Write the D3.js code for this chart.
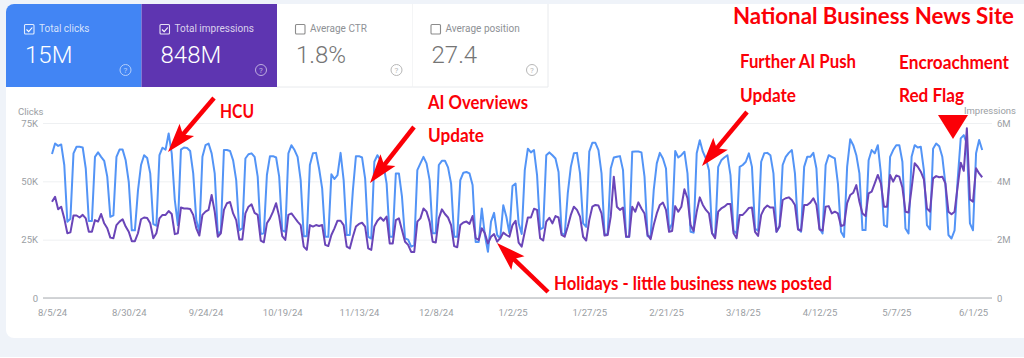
<!DOCTYPE html>
<html>
<head>
<meta charset="utf-8">
<script src="https://cdn.jsdelivr.net/npm/d3@7"></script>
<style>
  html, body { margin: 0; padding: 0; background: #eff3f9; overflow: hidden; }
  svg { display: block; font-family: Roboto, sans-serif; }
</style>
</head>
<body>
<div id="chart"></div>
<script>
const startDate = '8/5/24';

// daily values, one row per week (Mon..Sun)
const clicks = [
  61.7,66.2,65.2,65.8,57,32.7,34,
  62,64.8,64.8,64.5,55.5,33,33,
  60.5,62.4,60.5,58.8,52,34.8,35.4,
  60.5,63.6,63.6,59,49.8,29,29,
  46,57,61.2,60,53.4,31.7,31,
  61.2,64.4,63.6,70.5,62,42,31.2,
  63.6,64.5,64.3,63,53.4,33.4,28.4,
  60.5,65.5,66.2,62,53.4,27.7,28.4,
  63.4,63.4,63,59,50.5,29,29.8,
  59.8,61.6,62,60.5,52,27.4,27.7,
  52.7,60.8,60.8,60.2,52,29,28.4,
  62,65.5,63.4,60.5,50.5,26.5,26.5,
  57,62,62.2,55.5,47,26.2,26.2,
  53,51,52.7,62.2,50.5,27,27,
  46,60.8,60.8,60.2,51.2,26.2,25.5,
  58.4,61.2,59,57,49,26.2,26.2,
  53.4,53.4,43.4,25.5,25,22,22.7,
  54.8,57.7,60.5,57.7,50.5,27.7,27.7,
  57,58.8,58.8,56,49,26.2,26.2,
  50.5,53.7,54,53.4,48.4,24,24,
  38.4,27,19.8,32.7,36.5,27,25.5,
  39.8,34.8,27.7,48,49,32,27.4,
  54.8,64,62.4,63.4,52.7,29.4,30.2,
  61.2,62.4,61.2,59.8,54,27.7,27,
  44.8,56.2,62,62.2,53.4,32,30.5,
  62.7,66.5,66.5,63.4,53.4,27,27.4,
  55.5,60.2,60.5,60.8,54.8,26.2,26.2,
  62.7,62.8,62.8,62.4,52,26.5,26.5,
  46.2,57.7,62.2,59.8,55.5,29,32,
  63,60.2,61.2,62.7,53.4,28.4,28,
  62,67.6,62.7,59.8,54.8,27.7,26.5,
  56.2,59,60.2,61.2,52.7,28.8,27.7,
  56.2,57,58.4,62,56.2,29.8,28.8,
  58.4,62,62.2,61.2,53.4,28.4,30.5,
  57,60.5,62.2,63.4,53.4,29.8,28.4,
  56.2,60.5,60.5,62.2,55.5,29.8,27.7,
  57,61.2,60.5,59.8,49,28.4,26.2,
  56.2,68,65.5,61.2,53.4,29.1,29.1,
  59,63.4,62,65.5,53.4,31.2,30.5,
  60.5,63.4,65.5,65.5,58.4,29.8,27.7,
  60.5,65.5,64.5,64.8,54.8,31.2,29.4,
  64,66.2,65,60.5,49,27,25.5,
  29,50.5,68.4,69.8,66.2,32,29,
  62,67.7,63.4
];

const impressions = [
  3.3,3.47,3.04,3.13,2.73,2.22,2.25,
  2.83,2.83,2.76,2.85,2.73,2.27,2.27,
  2.67,2.62,2.88,2.56,2.39,2.07,2.05,
  2.5,2.62,2.7,2.45,2.27,1.95,1.95,
  2.22,2.7,2.76,2.74,2.56,2.05,2.22,
  2.73,2.85,2.85,2.98,2.88,2.19,2.22,
  3.1,3.07,3.07,3.05,2.85,2.39,2.14,
  2.85,2.96,3.02,3.53,2.96,2.1,2.22,
  3.02,3.25,3.29,2.9,2.67,2.01,2.01,
  2.9,3.13,3.21,2.92,2.85,1.97,1.91,
  2.56,2.73,2.96,3.25,2.79,2.12,1.99,
  2.85,2.9,2.76,2.62,2.5,1.76,1.65,
  2.5,2.45,2.5,2.47,2.5,1.82,1.78,
  2.16,2.39,2.65,2.65,2.5,1.76,1.7,
  2.1,2.45,2.54,2.58,2.45,1.7,1.65,
  2.45,2.65,2.76,2.65,2.79,1.87,1.87,
  2.67,2.73,2.33,1.93,1.82,1.58,1.58,
  2.62,2.73,3.07,2.96,2.62,1.93,1.9,
  2.73,3.04,2.88,2.76,2.5,1.78,1.74,
  2.5,2.59,2.62,2.54,2.81,2.05,1.99,
  2.39,2.22,1.87,2.1,2.19,1.93,2.05,
  2.24,2.16,2.1,2.5,2.65,1.9,1.76,
  2.27,2.76,2.76,3.06,3.02,2.05,1.97,
  2.62,2.75,2.56,2.81,2.76,2.16,2.1,
  2.45,2.85,3.13,3.02,2.79,2.1,1.97,
  2.67,3.13,3.19,3.17,2.9,2.14,2.16,
  2.79,4.16,3.13,3.02,3.1,2.1,2.1,
  3.13,2.96,3.28,3.07,2.9,2.16,2.02,
  2.5,2.9,3.19,3.27,3.02,2.27,2.3,
  3.15,2.96,3.13,3.73,3.42,2.5,2.3,
  2.96,3.45,3.19,3.02,2.9,2.22,2.05,
  2.96,3.07,3.13,3.22,3.22,2.22,2.05,
  2.85,2.85,2.96,3.09,3.1,2.27,2.13,
  2.85,3.07,3.17,3.1,3.1,2.27,2.47,
  3.36,3.42,3.45,3.36,3.19,2.35,2.31,
  3.19,3.19,3.27,3.42,3.19,2.35,2.31,
  3.13,3.15,2.9,2.96,2.9,2.47,2.5,
  3.25,3.53,3.61,3.87,3.3,2.9,2.81,
  3.59,3.65,3.93,4.22,3.93,3.13,3.13,
  4.22,3.99,4.2,4.16,3.79,2.96,2.93,
  3.76,4.62,4.5,4.33,4.07,3.07,2.96,
  4.1,4.18,4.14,4.16,3.93,2.96,2.87,
  2.96,3.82,4.64,4.36,5.82,3.38,3.3,
  4.45,4.27,4.14
];

const dateTicks = ['8/5/24','8/30/24','9/24/24','10/19/24','11/13/24','12/8/24','1/2/25',
  '1/27/25','2/21/25','3/18/25','4/12/25','5/7/25','6/1/25'];
const clickTicks = [0, 25, 50, 75];
const clickTickLabels = ['0', '25K', '50K', '75K'];
const imprTicks = [0, 2, 4, 6];
const imprTickLabels = ['0', '2M', '4M', '6M'];

const metricNames = ['Total clicks', 'Total impressions', 'Average CTR', 'Average position'];
const metricValues = ['15M', '848M', '1.8%', '27.4'];
const metricChecked = [true, true, false, false];
const metricFills = ['#4285f4', '#5e35b1', '#fff', '#fff'];

const width = 1024, height = 358;
const parseDate = d3.timeParse('%m/%d/%y');
const first = parseDate(startDate);
const dates = clicks.map((_, i) => d3.timeDay.offset(first, i));

const svg = d3.select('#chart').append('svg').attr('width', width).attr('height', height);

// scales: axis frame is 43..992 wide, 123..298 tall
const x = d3.scaleTime().domain([first, parseDate('6/1/25')]).range([52, 973]);
const yClicks = d3.scaleLinear().domain([0, 75]).range([298, 123]);
const yImpr = d3.scaleLinear().domain([0, 6]).range([298, 123]);

// card background
svg.append('path')
  .attr('fill', '#fff')
  .attr('d', 'M6,12 a8,8 0 0 1 8,-8 H1024 V338 H14 a8,8 0 0 1 -8,-8 Z');
svg.append('rect').attr('x', 0).attr('y', 357).attr('width', width).attr('height', 1).attr('fill', '#fff');

// metric tiles
const tileW = 135.5;
const tiles = svg.selectAll('g.tile').data(metricNames).join('g')
  .attr('class', 'tile')
  .attr('transform', (d, i) => `translate(${6 + i * tileW},4)`);

tiles.append('path')
  .attr('fill', (d, i) => metricFills[i])
  .attr('d', (d, i) => i === 0
    ? `M0,83 V8 a8,8 0 0 1 8,-8 H${tileW} V83 Z`
    : `M0,83 V0 H${tileW} V83 Z`);
tiles.filter((d, i) => i >= 2).append('line')
  .attr('x1', tileW).attr('x2', tileW).attr('y1', 0).attr('y2', 83)
  .attr('stroke', '#e8eaed');
tiles.filter((d, i) => i >= 2).append('line')
  .attr('x1', 0).attr('x2', tileW).attr('y1', 83).attr('y2', 83)
  .attr('stroke', '#e8eaed');

const boxInk = (d, i) => metricChecked[i] ? '#fff' : '#777';
const labelInk = (d, i) => metricChecked[i] ? 'rgba(255,255,255,0.78)' : '#8e9195';
const valueInk = (d, i) => metricChecked[i] ? '#fff' : '#757575';
const helpInk = (d, i) => metricChecked[i] ? '#fff' : '#888';

tiles.append('rect')
  .attr('x', 18.5).attr('y', 20.5).attr('width', 9.5).attr('height', 9.5).attr('rx', 1)
  .attr('fill', 'none').attr('stroke', boxInk).attr('stroke-width', 1.1).attr('opacity', 0.85);
tiles.filter((d, i) => metricChecked[i]).append('path')
  .attr('d', 'M20.5,25.5 l2.2,2.2 l3.6,-4.2')
  .attr('fill', 'none').attr('stroke', '#fff').attr('stroke-width', 1.1);
tiles.append('text')
  .attr('x', 33).attr('y', 28)
  .attr('font-size', 10)
  .attr('fill', labelInk)
  .text(d => d);
tiles.append('text')
  .attr('x', 19).attr('y', 59)
  .attr('font-size', 24).attr('font-weight', 300)
  .attr('fill', valueInk)
  .text((d, i) => metricValues[i]);
const help = tiles.append('g').attr('transform', 'translate(119.5,66)').attr('opacity', 0.6);
help.append('circle').attr('r', 5.5).attr('fill', 'none').attr('stroke', helpInk).attr('stroke-width', 1);
help.append('text').attr('y', 3).attr('text-anchor', 'middle').attr('font-size', 8)
  .attr('fill', helpInk).text('?');

// axes, gridlines come from the y axis ticks
const gridColor = '#eef0f2', labelColor = '#9a9ea3';
function styleAxis(g) {
  g.select('.domain').remove();
  g.selectAll('.tick line').attr('stroke', gridColor);
  g.selectAll('.tick text').attr('fill', labelColor).attr('font-size', 9.5).attr('font-family', 'Roboto, sans-serif');
}
svg.append('g')
  .attr('transform', 'translate(43,0)')
  .call(d3.axisLeft(yClicks).tickValues(clickTicks).tickSize(-949).tickPadding(5)
    .tickFormat((d, i) => clickTickLabels[i]))
  .call(styleAxis);
svg.append('g')
  .attr('transform', 'translate(990,0)')
  .call(d3.axisRight(yImpr).tickValues(imprTicks).tickSize(0).tickPadding(7)
    .tickFormat((d, i) => imprTickLabels[i]))
  .call(styleAxis);
svg.append('line')
  .attr('x1', 43).attr('x2', 992)
  .attr('y1', yClicks(0)).attr('y2', yClicks(0))
  .attr('stroke', '#c4c7ca').attr('stroke-width', 1.5);
svg.append('g')
  .attr('transform', 'translate(0,298)')
  .call(d3.axisBottom(x).tickValues(dateTicks.map(parseDate)).tickSize(0).tickPadding(11)
    .tickFormat((d, i) => dateTicks[i]))
  .call(styleAxis);

svg.append('text').attr('x', 18).attr('y', 115).attr('font-size', 9.5).attr('fill', labelColor).text('Clicks');
svg.append('text').attr('x', 1016).attr('y', 114).attr('text-anchor', 'end').attr('font-size', 9.5).attr('fill', labelColor).text('Impressions');

// series
svg.append('path')
  .datum(clicks)
  .attr('fill', 'none').attr('stroke', '#5394f6').attr('stroke-width', 2).attr('stroke-linejoin', 'round')
  .attr('d', d3.line().x((d, i) => x(dates[i])).y(d => yClicks(d)));
svg.append('path')
  .datum(impressions)
  .attr('fill', 'none').attr('stroke', '#6a45b8').attr('stroke-width', 2).attr('stroke-linejoin', 'round')
  .attr('d', d3.line().x((d, i) => x(dates[i])).y(d => yImpr(d)));

// red annotations
const red = '#fb0007';
function arrow(tipX, tipY, tailX, tailY) {
  const a = Math.atan2(tailY - tipY, tailX - tipX);
  const pt = (along, side) => [
    tipX + along * Math.cos(a) - side * Math.sin(a),
    tipY + along * Math.sin(a) + side * Math.cos(a)
  ];
  svg.append('line')
    .attr('x1', pt(20, 0)[0]).attr('y1', pt(20, 0)[1])
    .attr('x2', tailX).attr('y2', tailY)
    .attr('stroke', red).attr('stroke-width', 4.5);
  svg.append('path')
    .attr('fill', red)
    .attr('d', d3.line()([pt(0, 0), pt(29, -9.5), pt(23, 0), pt(29, 9.5)]) + 'Z');
}
arrow(168, 152, 214, 98);
arrow(370, 183, 414, 127);
arrow(702, 166, 747, 112);
arrow(497, 243, 548, 292);

svg.append('path').attr('fill', red).attr('d', 'M938,115 H968 L953,139 Z');

const notes = [
  ['National Business News Site', 733, 24, 23, 281],
  ['Further AI Push', 740, 68, 19, 116],
  ['Update', 740, 102, 19, 56],
  ['Encroachment', 899, 69, 19, 110],
  ['Red Flag', 899, 102, 19, 65],
  ['HCU', 220, 118, 19, 34],
  ['AI Overviews', 428, 109, 19, 100],
  ['Update', 428, 142, 19, 56],
  ['Holidays - little business news posted', 554, 290, 19.5, 278]
];
svg.selectAll('text.note').data(notes).join('text')
  .attr('class', 'note')
  .attr('x', d => d[1]).attr('y', d => d[2])
  .attr('font-family', 'Lato, sans-serif').attr('font-weight', 700)
  .attr('font-size', d => d[3])
  .attr('textLength', d => d[4]).attr('lengthAdjust', 'spacingAndGlyphs')
  .attr('fill', red)
  .text(d => d[0]);
</script>
</body>
</html>
